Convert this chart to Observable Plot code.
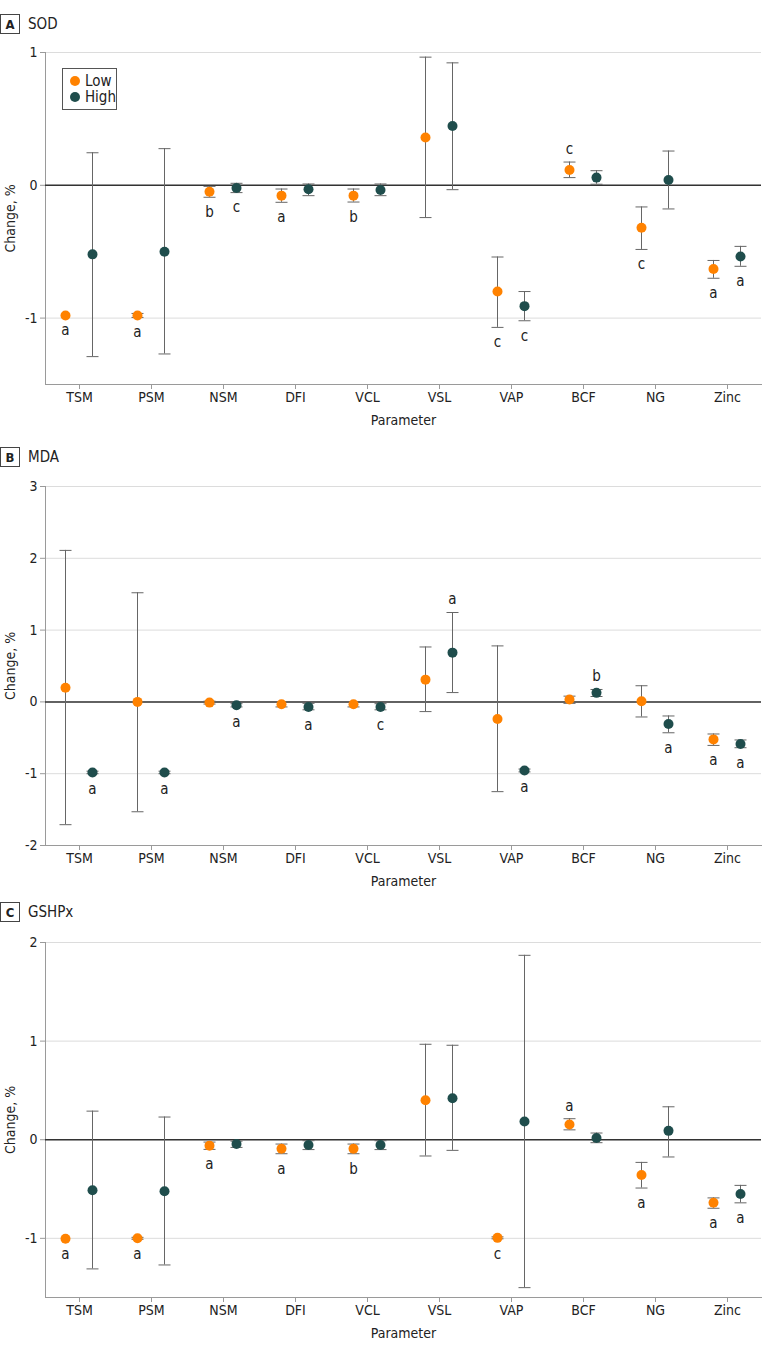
<!DOCTYPE html>
<html><head><meta charset="utf-8">
<script src="https://cdn.jsdelivr.net/npm/d3@7"></script>
<script src="https://cdn.jsdelivr.net/npm/@observablehq/plot@0.6"></script>
<style>
body{margin:0;background:#fff;font-family:"Liberation Sans Narrow","DejaVu Sans Condensed",sans-serif;color:#222}
#root{position:relative;width:783px;height:1352px;overflow:hidden}
.hdr{position:absolute;left:0;height:20px;display:flex;align-items:center;font-size:15px;color:#222}
.box{box-sizing:border-box;width:20px;height:20px;border:1px solid #444;display:flex;align-items:center;justify-content:center;font-weight:bold;font-size:13px;margin-right:8px}
.panel{position:absolute;left:0}
.legend{position:absolute;left:62px;top:68px;box-sizing:border-box;width:55px;height:42px;border:1px solid #555;background:#fff;font-size:15px;padding:4px 0 0 7px}
.legend div{display:flex;align-items:center;height:16px}
.legend span.d{display:inline-block;width:10px;height:10px;border-radius:50%;margin-right:5px}
</style></head>
<body><div id="root"></div>
<script>
const params = ["TSM","PSM","NSM","DFI","VCL","VSL","VAP","BCF","NG","Zinc"];
const groups = ["Low","High"];

// Panel A: SOD
const sodLow    = [-0.98, -0.98, -0.048, -0.078, -0.078, 0.36, -0.80, 0.115, -0.32, -0.63];
const sodLowLo  = [null, -0.995, -0.09, -0.128, -0.126, -0.243, -1.07, 0.058, -0.483, -0.70];
const sodLowHi  = [null, -0.965, -0.008, -0.028, -0.028, 0.965, -0.54, 0.175, -0.163, -0.566];
const sodLowSig = ["a","a","b","a","b","","c","c","c","a"];
const sodHigh    = [-0.52, -0.50, -0.02, -0.03, -0.035, 0.446, -0.91, 0.058, 0.04, -0.536];
const sodHighLo  = [-1.29, -1.27, -0.055, -0.078, -0.078, -0.033, -1.02, 0.008, -0.178, -0.61];
const sodHighHi  = [0.245, 0.276, 0.015, 0.01, 0.01, 0.922, -0.80, 0.11, 0.258, -0.46];
const sodHighSig = ["","","c","","","","c","","","a"];

// Panel B: MDA
const mdaLow    = [0.196, 0.0, -0.01, -0.033, -0.033, 0.31, -0.237, 0.033, 0.01, -0.522];
const mdaLowLo  = [-1.71, -1.53, -0.03, -0.07, -0.07, -0.135, -1.25, -0.02, -0.21, -0.606];
const mdaLowHi  = [2.11, 1.52, 0.01, 0.0, 0.0, 0.765, 0.78, 0.08, 0.225, -0.447];
const mdaLowSig = ["","","","","","","","","","a"];
const mdaHigh    = [-0.983, -0.983, -0.046, -0.07, -0.07, 0.686, -0.955, 0.126, -0.307, -0.587];
const mdaHighLo  = [-1.0, -1.0, -0.07, -0.11, -0.11, 0.13, -0.975, 0.075, -0.43, -0.638];
const mdaHighHi  = [-0.965, -0.965, -0.025, -0.02, -0.025, 1.245, -0.935, 0.173, -0.196, -0.53];
const mdaHighSig = ["a","a","a","a","c","a","a","b","a","a"];

// Panel C: GSHPx
const gsLow    = [-1.005, -1.0, -0.06, -0.091, -0.091, 0.40, -0.995, 0.155, -0.357, -0.64];
const gsLowLo  = [null, -1.01, -0.098, -0.142, -0.142, -0.165, -1.005, 0.10, -0.49, -0.695];
const gsLowHi  = [null, -0.99, -0.024, -0.044, -0.044, 0.968, -0.985, 0.213, -0.23, -0.59];
const gsLowSig = ["a","a","a","a","b","","c","a","a","a"];
const gsHigh    = [-0.513, -0.523, -0.044, -0.054, -0.054, 0.42, 0.185, 0.017, 0.09, -0.55];
const gsHighLo  = [-1.31, -1.27, -0.078, -0.10, -0.10, -0.108, -1.50, -0.03, -0.175, -0.64];
const gsHighHi  = [0.29, 0.23, -0.015, -0.01, -0.01, 0.958, 1.87, 0.068, 0.334, -0.463];
const gsHighSig = ["","","","","","","","","","a"];

const colors = {Low: "#FF8200", High: "#1F4D4C"};
const offsets = {Low: -14, High: 13};

const panels = [
  {letter:"A", title:"SOD", domain:[-1.5,1], ticks:[-1,0,1], hdrTop:14, svgTop:40, plotH:332, legend:true,
   series:{Low:[sodLow,sodLowLo,sodLowHi,sodLowSig], High:[sodHigh,sodHighLo,sodHighHi,sodHighSig]}},
  {letter:"B", title:"MDA", domain:[-2,3], ticks:[-2,-1,0,1,2,3], hdrTop:447, svgTop:474, plotH:359,
   series:{Low:[mdaLow,mdaLowLo,mdaLowHi,mdaLowSig], High:[mdaHigh,mdaHighLo,mdaHighHi,mdaHighSig]}},
  {letter:"C", title:"GSHPx", domain:[-1.6,2], ticks:[-1,0,1,2], hdrTop:902, svgTop:930, plotH:355,
   series:{Low:[gsLow,gsLowLo,gsLowHi,gsLowSig], High:[gsHigh,gsHighLo,gsHighHi,gsHighSig]}}
];

const cap = {draw(ctx, size){ const r = Math.sqrt(size/Math.PI); ctx.moveTo(-r,0); ctx.lineTo(r,0); }};
const root = document.getElementById("root");
const FONT = '"Liberation Sans Narrow","DejaVu Sans Condensed",sans-serif';

for (const p of panels) {
  const hdr = document.createElement("div");
  hdr.className = "hdr"; hdr.style.top = p.hdrTop + "px";
  hdr.innerHTML = `<div class="box">${p.letter}</div><span>${p.title}</span>`;
  root.appendChild(hdr);

  const marks = [
    Plot.gridY(p.ticks, {stroke:"#dcdcdc", strokeOpacity:1}),
    Plot.frame({anchor:"left", stroke:"#9a9a9a"}),
    Plot.frame({anchor:"bottom", stroke:"#9a9a9a"}),
    Plot.ruleY([0], {stroke:"#333", strokeWidth:1.5}),
    Plot.axisY({ticks:p.ticks, tickSize:5, tickPadding:3, tickFormat:d=>String(d), stroke:"#9a9a9a", fill:"#222",
      label:"Change, %", labelAnchor:"center", labelArrow:"none", labelOffset:40}),
    Plot.axisX({tickSize:5, tickPadding:3, stroke:"#9a9a9a", fill:"#222",
      label:"Parameter", labelAnchor:"center", labelArrow:"none", labelOffset:40})
  ];
  for (const g of groups) {
    const [v, lo, hi, sig] = p.series[g];
    const rows = params.map((name,i)=>({param:name, value:v[i], lo:lo[i], hi:hi[i], sig:sig[i]}));
    const withCI = rows.filter(d=>d.lo!=null);
    const dx = offsets[g];
    marks.push(
      Plot.ruleX(withCI, {x:"param", y1:"lo", y2:"hi", dx, stroke:"#666", strokeWidth:1}),
      Plot.dot(withCI, {x:"param", y:"lo", dx, symbol:cap, r:6, stroke:"#666", strokeWidth:1, fill:"none"}),
      Plot.dot(withCI, {x:"param", y:"hi", dx, symbol:cap, r:6, stroke:"#666", strokeWidth:1, fill:"none"}),
      Plot.dot(rows, {x:"param", y:"value", dx, r:5, fill:colors[g], stroke:"none"}),
      Plot.text(rows.filter(d=>d.sig && d.value<0), {x:"param", y:d=>d.lo!=null?Math.min(d.lo,d.value):d.value, text:"sig", dx, dy:15, fontSize:15, fill:"#222"}),
      Plot.text(rows.filter(d=>d.sig && d.value>=0), {x:"param", y:d=>d.hi!=null?Math.max(d.hi,d.value):d.value, text:"sig", dx, dy:-13, fontSize:15, fill:"#222"})
    );
  }
  const chart = Plot.plot({
    width: 783,
    height: 12 + p.plotH + 50,
    marginTop: 12, marginBottom: 50, marginLeft: 45, marginRight: 22,
    style: {fontFamily: FONT, fontSize: "14px", color:"#222", background:"#fff", overflow:"visible"},
    x: {type:"point", domain: params, padding: 0.44},
    y: {domain: p.domain},
    marks
  });
  const wrap = document.createElement("div");
  wrap.className = "panel"; wrap.style.top = p.svgTop + "px";
  wrap.appendChild(chart);
  root.appendChild(wrap);

  if (p.legend) {
    const lg = document.createElement("div");
    lg.className = "legend";
    lg.innerHTML = groups.map(g=>`<div><span class="d" style="background:${colors[g]}"></span>${g}</div>`).join("");
    root.appendChild(lg);
  }
}
</script></body></html>
